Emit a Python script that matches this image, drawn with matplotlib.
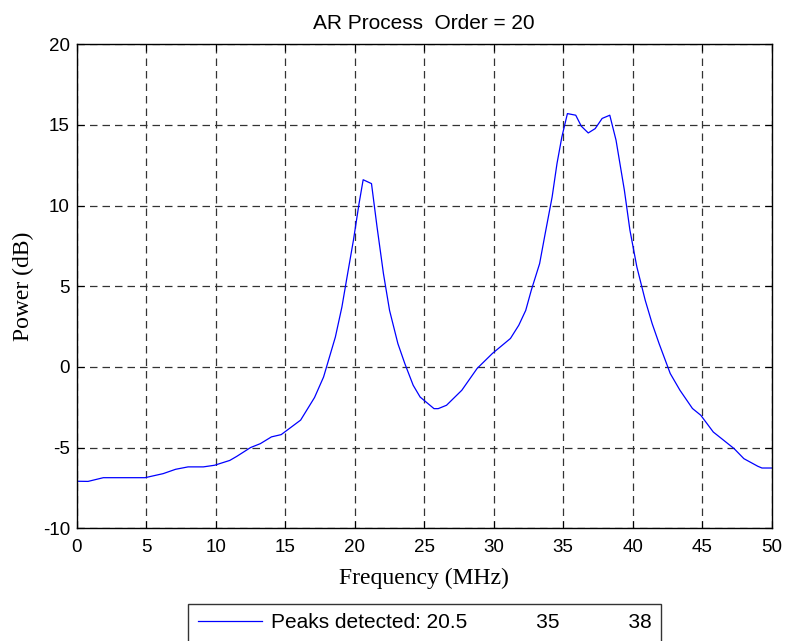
import numpy as np
import matplotlib.pyplot as plt

# values
freq = [0, 0.8, 1.9, 4.9, 6.2, 7.1, 8.0, 9.1, 9.9, 11.0, 11.5, 12.5, 13.2, 14.0,
        14.7, 16.1, 17.1, 17.75, 18.6, 19.07, 19.4, 19.9, 20.3, 20.6, 21.2, 21.6,
        22.06, 22.5, 23.1, 23.6, 24.2, 24.7, 25.7, 26.0, 26.6, 27.7, 28.8, 29.9,
        31.2, 31.8, 32.3, 32.7, 33.3, 33.7, 34.2, 34.55, 34.9, 35.3, 35.9, 36.3,
        36.8, 37.3, 37.8, 38.35, 38.8, 39.4, 39.8, 40.3, 40.9, 41.4, 41.9, 42.7,
        43.4, 44.3, 44.9, 45.8, 46.4, 47.3, 48.0, 49.0, 49.3, 50.0]
power = [-7.09, -7.1, -6.87, -6.87, -6.62, -6.35, -6.2, -6.2, -6.1, -5.8, -5.55,
         -5.0, -4.76, -4.34, -4.2, -3.3, -1.9, -0.63, 1.85, 3.71, 5.37, 7.85, 10.1,
         11.6, 11.36, 8.67, 5.78, 3.5, 1.44, 0.2, -1.14, -1.87, -2.59, -2.59, -2.38,
         -1.45, -0.1, 0.83, 1.76, 2.58, 3.5, 4.75, 6.4, 8.26, 10.53, 12.6, 14.25,
         15.7, 15.6, 14.92, 14.5, 14.77, 15.4, 15.6, 14.05, 10.95, 8.47, 6.19, 4.13,
         2.68, 1.44, -0.41, -1.45, -2.58, -3.0, -4.04, -4.45, -5.07, -5.69, -6.16,
         -6.27, -6.27]
peaks = ["20.5", "35", "38"]
xticks = np.arange(0, 51, 5)
yticks = np.arange(-10, 21, 5)

plt.rcParams['font.family'] = ['Liberation Sans', 'DejaVu Sans']
plt.rcParams['axes.unicode_minus'] = False

fig = plt.figure(figsize=(7.85, 6.41), dpi=100)
ax = fig.add_axes([0.098, 0.176, 0.885, 0.755])

ax.plot(freq, power, color='#0000ff', linewidth=0.9,
        label="Peaks detected: " + "            ".join(peaks))

ax.set_xlim(0, 50)
ax.set_ylim(-10, 20)
ax.set_xticks(xticks)
ax.set_yticks(yticks)
ax.grid(True, color='0.2', linestyle=(0, (6, 4)), linewidth=0.9)
ax.tick_params(direction='in', top=True, right=True, length=5, labelsize=13.5)
ax.tick_params(axis='x', pad=8)
ax.tick_params(axis='y', pad=5)
for s in ax.spines.values():
    s.set_linewidth(1.0)

ax.set_title("AR Process  Order = 20", fontsize=15, pad=11)
ax.set_xlabel("Frequency (MHz)", family='Liberation Serif', fontsize=17, labelpad=8)
ax.set_ylabel("Power (dB)", family='Liberation Serif', fontsize=17, labelpad=6)

leg = fig.legend(loc='upper center', bbox_to_anchor=(0.541, 1 - 604 / 641),
                 fontsize=15, frameon=True, fancybox=False, edgecolor='k',
                 handlelength=3.1, handletextpad=0.42, borderpad=0.45,
                 borderaxespad=0)
leg.get_frame().set_linewidth(1.0)

fig.savefig("out.png", dpi=100)
